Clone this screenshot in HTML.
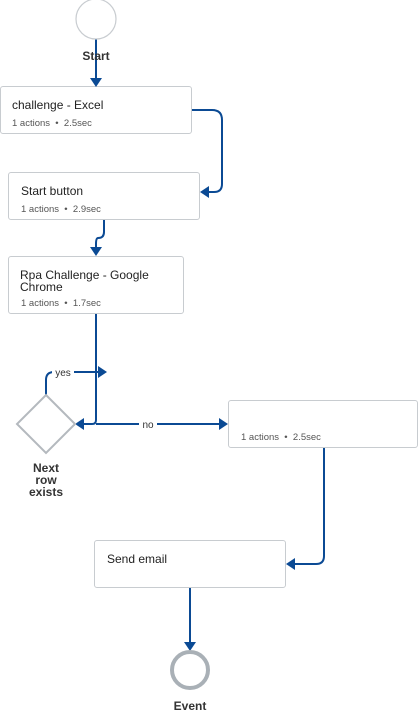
<!DOCTYPE html>
<html><head><style>
body{margin:0;width:420px;height:713px;background:#fff;font-family:"Liberation Sans",sans-serif;position:relative;overflow:hidden}
.b{position:absolute;border:1.5px solid #c8ccd0;border-radius:3px;background:#fff;box-sizing:border-box}
.t{position:absolute;font-size:12px;color:#222;line-height:12px}
.s{position:absolute;font-size:9.5px;color:#555}
.l{position:absolute;font-size:12px;color:#333;text-align:center;font-weight:bold}
</style></head><body>
<div class="b" style="left:0;top:86px;width:192px;height:48px"></div>
<div class="t" style="left:12px;top:99px">challenge - Excel</div>
<div class="s" style="left:12px;top:118px">1 actions &nbsp;•&nbsp; 2.5sec</div>
<div class="b" style="left:8px;top:172px;width:192px;height:48px"></div>
<div class="t" style="left:21px;top:185px">Start button</div>
<div class="s" style="left:21px;top:204px">1 actions &nbsp;•&nbsp; 2.9sec</div>
<div class="b" style="left:8px;top:256px;width:176px;height:58px"></div>
<div class="t" style="left:20px;top:269px">Rpa Challenge - Google<br>Chrome</div>
<div class="s" style="left:21px;top:298px">1 actions &nbsp;•&nbsp; 1.7sec</div>
<div class="b" style="left:228px;top:400px;width:190px;height:48px"></div>
<div class="s" style="left:241px;top:432px">1 actions &nbsp;•&nbsp; 2.5sec</div>
<div class="b" style="left:94px;top:540px;width:192px;height:48px"></div>
<div class="t" style="left:107px;top:553px">Send email</div>
<svg width="420" height="713" style="position:absolute;left:0;top:0">
<g fill="none" stroke="#0b4a94" stroke-width="2">
<path d="M96 39V80"/>
<path d="M192 110H212Q222 110 222 120V184Q222 192 214 192H206"/>
<path d="M104 220V232Q104 238 98 238Q96 238 96 244V250"/>
<path d="M96 314V420Q96 424 92 424H81"/>
<path d="M46 395V380Q46 372 54 372H100"/>
<path d="M96 424H222"/>
<path d="M324 448V556Q324 564 316 564H292"/>
<path d="M190 588V645"/>
</g>
<g fill="#0b4a94">
<path d="M90 78L102 78L96 87Z"/>
<path d="M209 186L209 198L200 192Z"/>
<path d="M90 247L102 247L96 256Z"/>
<path d="M84 418L84 430L75 424Z"/>
<path d="M98 366L98 378L107 372Z"/>
<path d="M219 418L219 430L228 424Z"/>
<path d="M295 558L295 570L286 564Z"/>
<path d="M184 642L196 642L190 651Z"/>
</g>
<rect x="52" y="365" width="22" height="14" fill="#fff"/>
<text x="63" y="376" font-size="10" text-anchor="middle" fill="#333" font-family="Liberation Sans">yes</text>
<rect x="139" y="417" width="18" height="14" fill="#fff"/>
<text x="148" y="428" font-size="10" text-anchor="middle" fill="#333" font-family="Liberation Sans">no</text>
<circle cx="96" cy="19" r="20" fill="#fff" stroke="#c8ccd0" stroke-width="1.2"/>
<path d="M46 395L75 424L46 453L17 424Z" fill="#fff" stroke="#b4b9be" stroke-width="2"/>
<circle cx="190" cy="670" r="18" fill="#fff" stroke="#a9b0b6" stroke-width="4"/>
</svg>
<div class="l" style="left:66px;top:49px;width:60px">Start</div>
<div class="l" style="left:16px;top:462px;width:60px;line-height:12px">Next<br>row<br>exists</div>
<div class="l" style="left:160px;top:699px;width:60px">Event</div>
</body></html>
